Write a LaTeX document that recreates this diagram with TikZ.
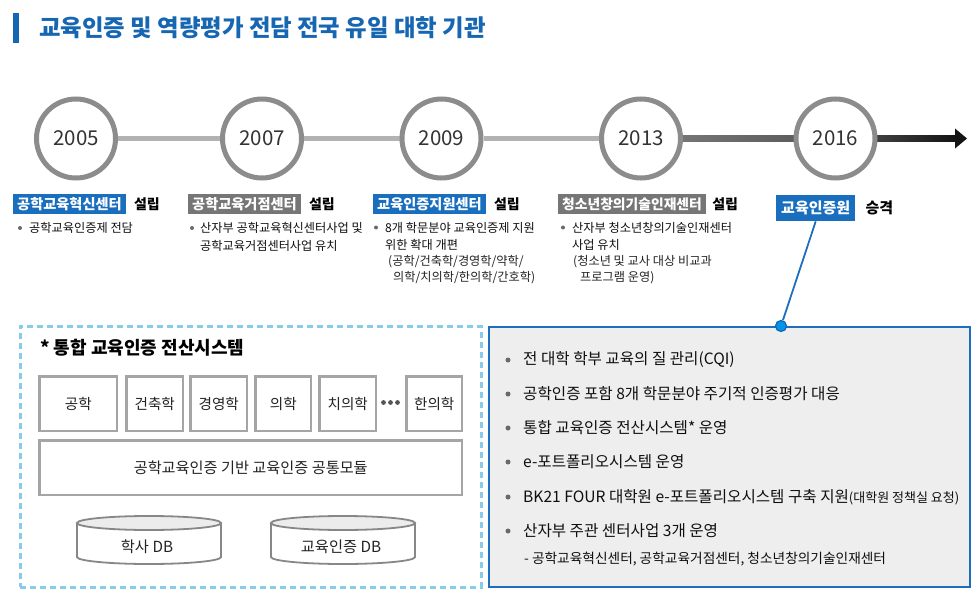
\documentclass[tikz,border=0pt]{standalone}
\usepackage{fontspec}
\setmainfont{Noto Sans CJK KR}
\usetikzlibrary{calc}
\definecolor{titleblue}{RGB}{22,102,178}
\definecolor{labblue}{RGB}{25,110,190}
\definecolor{labgray}{RGB}{118,118,118}
\definecolor{ringgray}{RGB}{140,140,140}
\definecolor{yeartext}{RGB}{51,51,51}
\definecolor{tlight}{RGB}{178,178,178}
\definecolor{tmid}{RGB}{125,125,125}
\definecolor{tdarkA}{RGB}{85,85,85}
\definecolor{tdarkB}{RGB}{20,20,20}
\definecolor{darktext}{RGB}{35,35,35}
\definecolor{blacktext}{RGB}{15,15,15}
\definecolor{bulgray}{RGB}{105,105,105}
\definecolor{dashblue}{RGB}{135,205,235}
\definecolor{boxgray}{RGB}{165,165,165}
\definecolor{dbgray}{RGB}{135,135,135}
\definecolor{dbtop}{RGB}{236,236,236}
\definecolor{rfill}{RGB}{238,238,238}
\definecolor{rborder}{RGB}{30,110,190}
\definecolor{dotfill}{RGB}{0,150,230}
\definecolor{dotdraw}{RGB}{20,100,180}
\newcommand\fsz[2]{\fontsize{#1}{#2}\selectfont}
\pgfdeclarelayer{bg}
\pgfsetlayers{bg,main}
\begin{document}
\begin{tikzpicture}[x=1pt,y=-1pt,
  yearcirc/.style={circle, draw=ringgray, line width=5pt, fill=white, minimum size=79pt, inner sep=0pt, font=\fsz{20.5}{24}, text=yeartext},
  tline/.style={draw=tlight, line width=5.5pt},
  bluelab/.style={fill=labblue, text=white, font=\bfseries\fsz{14.2}{17}, inner xsep=4pt, inner ysep=0pt, minimum height=20pt, anchor=north west},
  graylab/.style={bluelab, fill=labgray},
  estab/.style={font=\bfseries\fsz{14}{17}, anchor=west, inner sep=0pt, text=black},
  bline/.style={font=\fsz{12.2}{15}, anchor=west, inner sep=0pt, text=blacktext},
  bdot/.style={circle, fill=bulgray, inner sep=0pt, minimum size=4pt},
  subjbox/.style={draw=boxgray, line width=2.5pt, fill=white, minimum height=54.5pt, anchor=north west, inner sep=0pt, font=\fsz{14.6}{17}, text=darktext},
  dbline/.style={draw=dbgray, line width=1.8pt},
  dbtext/.style={font=\fsz{15.3}{18}, text=darktext, inner sep=0pt},
  rline/.style={font=\fsz{15.6}{18}, anchor=west, inner sep=0pt, text=blacktext},
  rdot/.style={circle, fill=bulgray, inner sep=0pt, minimum size=5pt}
]
\useasboundingbox (0,0) rectangle (979,599);

% title
\fill[titleblue] (13,13) rectangle (19,43);
\node[anchor=west, inner sep=0pt, font=\bfseries\fsz{23.4}{26}, text=titleblue] (title) at (39,28) {교육인증 및 역량평가 전담 전국 유일 대학 기관};

% timeline circles
\node[yearcirc] (y2005) at (76,138.5) {2005};
\node[yearcirc] (y2007) at (262,138.5) {2007};
\node[yearcirc] (y2009) at (441.5,138.5) {2009};
\node[yearcirc] (y2013) at (641,138.5) {2013};
\node[yearcirc] (y2016) at (835.5,138.5) {2016};
\coordinate (atip) at (967,138.5);

\begin{pgfonlayer}{bg}
\draw[tline] (y2005) -- (y2007);
\draw[tline] (y2007) -- (y2009);
\draw[tline] (y2009) -- (y2013);
\shade[left color=tmid, right color=tdarkA] ($(y2013.center)+(0,-2.75)$) rectangle ($(y2016.center)+(0,2.75)$);
\shade[left color=tdarkA, right color=tdarkB] ($(y2016.center)+(0,-2.75)$) rectangle ($(atip)+(-11,2.75)$);
\end{pgfonlayer}
\fill[tdarkB] (atip) -- ++(-12,-10) -- ++(0,20) -- cycle;

% 2005
\node[bluelab] (l2005) at (13,194) {공학교육혁신센터};
\node[estab] (e2005) at ([xshift=8pt]l2005.east) {설립};
\node[bdot] (d2005) at (20,228) {};
\node[bline] (t2005a) at (29,228) {공학교육인증제 전담};

% 2007
\node[graylab] (l2007) at (188,194) {공학교육거점센터};
\node[estab] (e2007) at ([xshift=8pt]l2007.east) {설립};
\node[bdot] (d2007) at (192,228) {};
\node[bline] (t2007a) at (200,228) {산자부 공학교육혁신센터사업 및};
\node[bline] (t2007b) at (200,246) {공학교육거점센터사업 유치};

% 2009
\node[bluelab] (l2009) at (373,194) {교육인증지원센터};
\node[estab] (e2009) at ([xshift=8pt]l2009.east) {설립};
\node[bdot] (d2009) at (376,227.5) {};
\node[bline] (t2009a) at (385,227.5) {8개 학문분야 교육인증제 지원};
\node[bline] (t2009b) at (385,245) {위한 확대 개편};
\node[bline, text=darktext] (t2009c) at (388,261.5) {(공학/건축학/경영학/약학/};
\node[bline, text=darktext] (t2009d) at (393,277.5) {의학/치의학/한의학/간호학)};

% 2013
\node[graylab, font=\bfseries\fsz{13.8}{17}] (l2013) at (558,194) {청소년창의기술인재센터};
\node[estab] (e2013) at ([xshift=6pt]l2013.east) {설립};
\node[bdot] (d2013) at (563,227.5) {};
\node[bline] (t2013a) at (572,227.5) {산자부 청소년창의기술인재센터};
\node[bline] (t2013b) at (572,245) {사업 유치};
\node[bline, text=darktext] (t2013c) at (573,261.5) {(청소년 및 교사 대상 비교과};
\node[bline, text=darktext] (t2013d) at (580,277.5) {프로그램 운영)};

% 2016
\node[bluelab, font=\bfseries\fsz{15}{18}, minimum height=26pt, inner xsep=5pt] (l2016) at (776,195) {교육인증원};
\node[estab, font=\bfseries\fsz{15}{18}] (e2016) at ([xshift=10pt]l2016.east) {승격};

% left dashed box
\node[draw=dashblue, line width=2.5pt, dash pattern=on 6pt off 4pt, minimum width=461pt, minimum height=261pt, anchor=north west, inner sep=0pt] (lbox) at (19,325) {};
\node[anchor=west, inner sep=0pt, font=\bfseries\fsz{18}{21}, text=black] (ltitle) at (40,348) {* 통합 교육인증 전산시스템};

\node[subjbox, minimum width=77.5pt] (s1) at (38.25,375.25) {공학};
\node[subjbox, minimum width=56.5pt] (s2) at (125.25,375.25) {건축학};
\node[subjbox, minimum width=56.5pt] (s3) at (189.25,375.25) {경영학};
\node[subjbox, minimum width=55.5pt] (s4) at (254.25,375.25) {의학};
\node[subjbox, minimum width=56.5pt] (s5) at (318.25,375.25) {치의학};
\node[subjbox, minimum width=55.5pt] (s6) at (405.25,375.25) {한의학};
\fill[tdarkA] (383.5,402.5) circle (2.4pt) (390.5,402.5) circle (2.4pt) (397.5,402.5) circle (2.4pt);
\node[subjbox, minimum width=422.5pt, font=\fsz{15.2}{18}] (common) at (38.25,439.25) {공학교육인증 기반 교육인증 공통모듈};

% DB cylinders
\fill[white] (77,523) -- (77,557) arc[start angle=180, end angle=0, x radius=72, y radius=7] -- (221,523) -- cycle;
\draw[dbline] (77,523) -- (77,557) arc[start angle=180, end angle=0, x radius=72, y radius=7] -- (221,523);
\draw[dbline, fill=dbtop] (149,523) ellipse[x radius=72, y radius=7];
\node[dbtext] (db1) at (147,547) {학사 DB};

\fill[white] (271,523) -- (271,557) arc[start angle=180, end angle=0, x radius=72, y radius=7] -- (415,523) -- cycle;
\draw[dbline] (271,523) -- (271,557) arc[start angle=180, end angle=0, x radius=72, y radius=7] -- (415,523);
\draw[dbline, fill=dbtop] (343,523) ellipse[x radius=72, y radius=7];
\node[dbtext] (db2) at (341,547) {교육인증 DB};

% right box
\node[draw=rborder, fill=rfill, line width=2pt, minimum width=481pt, minimum height=260pt, anchor=north west, inner sep=0pt] (rbox) at (488,326) {};
\node[circle, fill=dotfill, draw=dotdraw, line width=1.2pt, minimum size=11pt, inner sep=0pt] (dot) at (781,326) {};
\draw[rborder, line width=1.8pt] (l2016.south) -- (dot);

\node[rdot] (rd1) at (508,360) {};
\node[rline] (r1) at (523,360) {전 대학 학부 교육의 질 관리(CQI)};
\node[rdot] (rd2) at (508,394) {};
\node[rline] (r2) at (523,394) {공학인증 포함 8개 학문분야 주기적 인증평가 대응};
\node[rdot] (rd3) at (508,428) {};
\node[rline] (r3) at (523,428) {통합 교육인증 전산시스템* 운영};
\node[rdot] (rd4) at (508,462) {};
\node[rline] (r4) at (523,462) {e-포트폴리오시스템 운영};
\node[rdot] (rd5) at (508,497) {};
\node[rline] (r5) at (523,497) {BK21 FOUR 대학원 e-포트폴리오시스템 구축 지원{\fsz{13}{15}(대학원 정책실 요청)}};
\node[rdot] (rd6) at (508,531) {};
\node[rline] (r6) at (523,531) {산자부 주관 센터사업 3개 운영};
\node[rline, font=\fsz{13.7}{16}] (r7) at (524,559) {- 공학교육혁신센터, 공학교육거점센터, 청소년창의기술인재센터};
\end{tikzpicture}
\end{document}
